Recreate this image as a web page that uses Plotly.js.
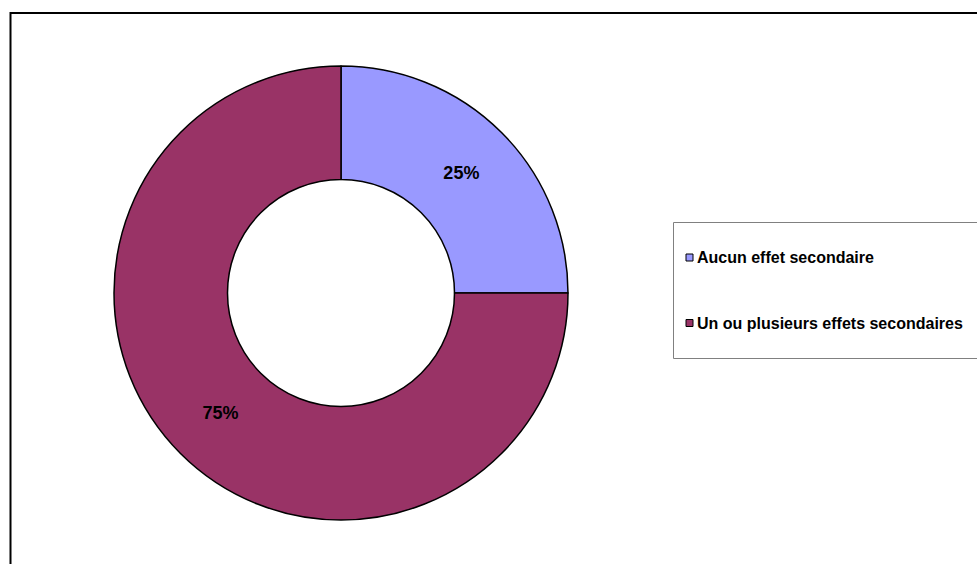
<!DOCTYPE html>
<html>
<head>
<meta charset="utf-8">
<script src="https://cdn.plot.ly/plotly-3.0.1.min.js"></script>
<style>html,body{margin:0;padding:0;background:#fff;}#chart{width:977px;height:564px;}</style>
</head>
<body>
<div id="chart"></div>
<script>
var categories = ["Aucun effet secondaire", "Un ou plusieurs effets secondaires"];
var values = [25, 75];
var colors = ["#9999FF", "#993366"];

var W = 977, H = 564;
function px(x){ return x / W; }
function py(y){ return 1 - y / H; }

var trace = {
  type: "pie",
  labels: categories,
  values: values,
  sort: false,
  direction: "clockwise",
  rotation: 0,
  hole: 0.5,
  marker: { colors: colors, line: { color: "#000000", width: 1.5 } },
  textinfo: "percent",
  texttemplate: "%{percent:.0%}",
  textposition: "inside",
  insidetextorientation: "horizontal",
  textfont: { family: "Liberation Sans, Arial, sans-serif", size: 18, color: "#000000", weight: "bold" },
  hoverinfo: "none",
  showlegend: false,
  domain: { x: [px(114), px(568)], y: [py(520), py(66)] }
};

var shapes = [
  { type: "rect", xref: "paper", yref: "paper", x0: px(10.5), y0: py(13), x1: 1.1, y1: -0.1,
    line: { color: "#000000", width: 2 }, fillcolor: "rgba(0,0,0,0)", layer: "below" },
  { type: "rect", xref: "paper", yref: "paper", x0: px(673.5), y0: py(222.5), x1: 1.1, y1: py(358.5),
    line: { color: "#808080", width: 1 }, fillcolor: "rgba(0,0,0,0)", layer: "below" }
];
var annotations = [];
var rowY = [257.5, 323];
for (var i = 0; i < categories.length; i++) {
  shapes.push({ type: "rect", xref: "paper", yref: "paper",
    x0: px(686), x1: px(693), y0: py(rowY[i] - 3.5), y1: py(rowY[i] + 3.5),
    fillcolor: colors[i], line: { color: "#000000", width: 1 } });
  annotations.push({ xref: "paper", yref: "paper", x: px(695), y: py(rowY[i]),
    xanchor: "left", yanchor: "middle", showarrow: false, text: "<b>" + categories[i] + "</b>",
    font: { family: "Liberation Sans, Arial, sans-serif", size: 16, color: "#000000" } });
}

var layout = {
  width: W, height: H,
  margin: { l: 0, r: 0, t: 0, b: 0 },
  paper_bgcolor: "#ffffff",
  plot_bgcolor: "#ffffff",
  showlegend: false,
  shapes: shapes,
  annotations: annotations
};

Plotly.newPlot("chart", [trace], layout, { staticPlot: true, displayModeBar: false });
</script>
</body>
</html>
